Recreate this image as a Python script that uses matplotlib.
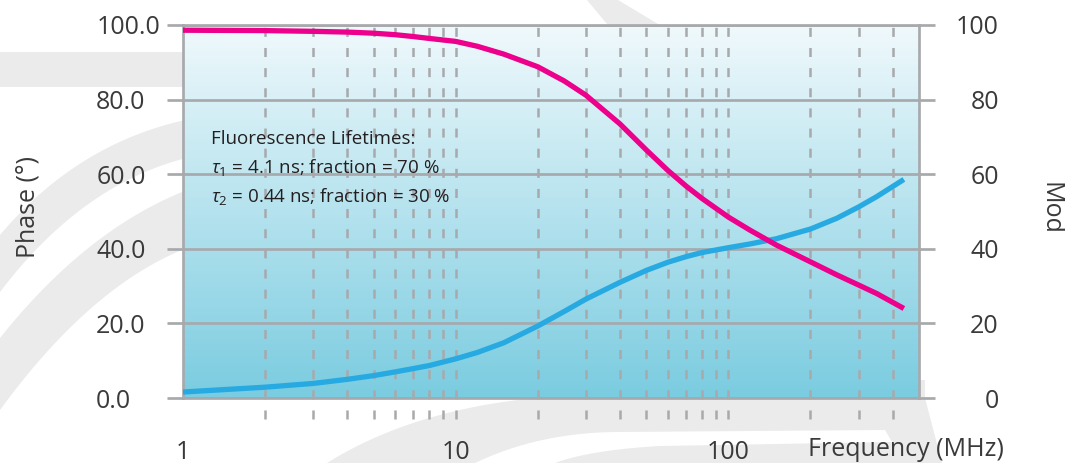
import numpy as np
import matplotlib
matplotlib.use("Agg")
import matplotlib.pyplot as plt
from matplotlib.patches import Polygon
from matplotlib.ticker import NullLocator, FixedLocator

# ---------------- data ----------------
freq = [1, 2, 3, 4, 5, 6, 7, 8, 10, 12, 15, 20, 25, 30, 40, 50, 60, 70, 80,
        100, 120, 150, 200, 250, 300, 350, 440]
mod = [98.6, 98.5, 98.3, 98.1, 97.8, 97.4, 96.9, 96.4, 95.6, 94.3, 92.2, 88.8,
       85.0, 81.2, 73.5, 66.5, 61.0, 56.8, 53.5, 48.5, 45.0, 41.0, 36.5, 33.0,
       30.3, 28.0, 24.0]
phase = [1.6, 2.9, 3.9, 5.0, 6.0, 7.0, 7.9, 8.7, 10.5, 12.2, 14.8, 19.3, 23.2,
         26.5, 31.0, 34.2, 36.4, 37.9, 39.0, 40.3, 41.3, 42.7, 45.3, 48.2,
         51.2, 54.0, 58.6]
grid_freqs = [2, 3, 4, 5, 6, 7, 8, 9, 10, 20, 30, 40, 50, 60, 70, 80, 90, 100,
              200, 300, 400]
x_ticks = [1, 10, 100]
x_ticklabels = ["1", "10", "100"]
y_ticks = [0, 20, 40, 60, 80, 100]
left_labels = ["0.0", "20.0", "40.0", "60.0", "80.0", "100.0"]
right_labels = ["0", "20", "40", "60", "80", "100"]
note_lines = ["Fluorescence Lifetimes:",
              r"$\tau_1$ = 4.1 ns; fraction = 70 %",
              r"$\tau_2$ = 0.44 ns; fraction = 30 %"]

# ---------------- style ----------------
plt.rcParams["font.family"] = ["Open Sans", "DejaVu Sans"]
plt.rcParams["lines.scale_dashes"] = False
plt.rcParams["mathtext.fontset"] = "custom"
plt.rcParams["mathtext.rm"] = "Open Sans"
plt.rcParams["mathtext.it"] = "Open Sans:italic"

GRID = "#a7a9ac"
TXT = "#3a3a3b"
NOTE = "#231f20"
PINK = "#ec008c"
BLUE = "#27aae1"
DECO = "#ebebeb"

W, H = 1065, 463
fig = plt.figure(figsize=(W / 100, H / 100), dpi=100)
fig.patch.set_facecolor("white")

# decorative background arcs (figure pixel coordinates)
bg = fig.add_axes([0, 0, 1, 1], zorder=0)
bg.set_xlim(0, W)
bg.set_ylim(H, 0)
bg.axis("off")


def quad(p0, c, p1, n=40):
    t = np.linspace(0, 1, n)[:, None]
    p0, c, p1 = map(np.asarray, (p0, c, p1))
    return (1 - t) ** 2 * p0 + 2 * (1 - t) * t * c + t ** 2 * p1


def band(up0, upc, up1, lo0, loc, lo1, color=DECO):
    pts = np.vstack([quad(up0, upc, up1), quad(lo0, loc, lo1)])
    bg.add_patch(Polygon(pts, closed=True, facecolor=color, edgecolor="none"))


bg.add_patch(Polygon([(0, 52), (195, 52), (195, 87), (0, 87)], facecolor=DECO, edgecolor="none"))
bg.add_patch(Polygon([(587, 0), (618, 0), (668, 30), (612, 30)], facecolor=DECO, edgecolor="none"))
band((0, 235), (80, 140), (195, 118), (195, 156), (85, 180), (0, 292))
band((0, 338), (90, 225), (195, 187), (195, 245), (95, 280), (0, 410))
pts = np.vstack([quad((327, 463), (420, 405), (560, 396)),
                 [(560, 380), (925, 380), (925, 398), (942, 463)]])
bg.add_patch(Polygon(pts, closed=True, facecolor=DECO, edgecolor="none"))
pts = np.vstack([quad((475, 463), (540, 432), (620, 432)), [(885, 430), (892, 442)],
                 quad((660, 446), (590, 450), (555, 463))])
bg.add_patch(Polygon(pts, closed=True, facecolor="white", edgecolor="none"))

# ---------------- main axes ----------------
ax = fig.add_axes([183 / W, 1 - 398 / H, 736 / W, 373 / H], zorder=1)
ax.set_xscale("log")
ax.set_xlim(1, 500)
ax.set_ylim(0, 100)

top = np.array([240, 249, 252]) / 255
bot = np.array([122, 204, 224]) / 255
t = np.linspace(0, 1, 256)[:, None]
grad = (top * (1 - t) + bot * t)[:, None, :]
ax.imshow(grad, extent=[0, 1, 0, 1], transform=ax.transAxes, aspect="auto",
          zorder=0, interpolation="bicubic")

for s in ax.spines.values():
    s.set_color(GRID)
    s.set_linewidth(1.95)
    s.set_zorder(2.5)

ax.yaxis.grid(True, color=GRID, linewidth=1.95, zorder=1)
ax.set_axisbelow(True)
ax.vlines(grid_freqs, -5.63, 99.5, colors=GRID, linewidth=1.8,
          linestyles=[(0, (6.5, 8.0))], clip_on=False, zorder=1.5)

ax.plot(freq, phase, color=BLUE, linewidth=3.8, solid_capstyle="butt", zorder=3)

ax.set_yticks(y_ticks)
ax.set_yticklabels(left_labels)
ax.tick_params(axis="y", which="major", direction="out", length=11.5, width=1.95,
               color=GRID, labelsize=18, labelcolor=TXT, pad=51)
for lab in ax.get_yticklabels():
    lab.set_horizontalalignment("left")

ax.xaxis.set_major_locator(FixedLocator(x_ticks))
ax.xaxis.set_minor_locator(NullLocator())
ax.set_xticklabels(x_ticklabels)
ax.tick_params(axis="x", which="both", length=0, labelsize=18, labelcolor=TXT, pad=30)

ax.set_xlabel("Frequency (MHz)", fontsize=18, color=TXT, ha="left", va="baseline")
ax.xaxis.set_label_coords(0.849, -0.1555)
ax.set_ylabel("Phase (°)", fontsize=18, color=TXT, va="center", ha="center")
ax.yaxis.set_label_coords(-0.2106, 0.512)

for i, line in enumerate(note_lines):
    ax.text(0.038, 0.681 - i * 0.0778, line, transform=ax.transAxes, fontsize=13.5,
            color=NOTE, ha="left", va="baseline", zorder=2)

# ---------------- twin axis (Mod) ----------------
ax2 = ax.twinx()
ax2.set_ylim(0, 100)
ax2.set_xlim(1, 500)
for s in ax2.spines.values():
    s.set_visible(False)
ax2.plot(freq, mod, color=PINK, linewidth=3.8, solid_capstyle="butt", zorder=3)
ax2.set_yticks(y_ticks)
ax2.set_yticklabels(right_labels)
ax2.tick_params(axis="y", direction="out", length=11.5, width=1.95, color=GRID,
                labelsize=18, labelcolor=TXT, pad=46)
for lab in ax2.get_yticklabels():
    lab.set_horizontalalignment("right")
ax2.xaxis.set_minor_locator(NullLocator())
ax2.set_ylabel("Mod", fontsize=18, color=TXT, rotation=270, va="center", ha="center")
ax2.yaxis.set_label_coords(1.178, 0.509)

fig.savefig("out.png", dpi=100, facecolor="white")
